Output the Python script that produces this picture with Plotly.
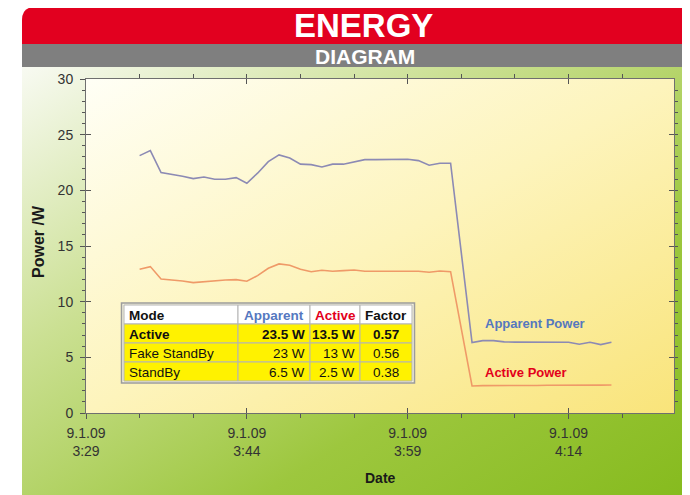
import base64
import plotly.graph_objects as go

# ---------------- data ----------------
DAY = "2009-01-09 "
times_on = ["03:34", "03:35", "03:36", "03:37", "03:38", "03:39", "03:40", "03:41", "03:42", "03:43",
            "03:44", "03:45", "03:46", "03:47", "03:48", "03:49", "03:50", "03:51", "03:52", "03:53",
            "03:54", "03:55", "03:56", "03:57", "03:58", "03:59", "04:00", "04:01", "04:02", "04:03"]
times_sb = ["04:05", "04:06", "04:07", "04:08", "04:09", "04:10", "04:11", "04:12", "04:13", "04:14",
            "04:15", "04:16", "04:17", "04:18"]

apparent_on = [23.12, 23.57, 21.59, 21.45, 21.27, 21.05, 21.20, 20.99, 20.99, 21.14,
               20.64, 21.54, 22.58, 23.18, 22.91, 22.35, 22.31, 22.10, 22.35, 22.35,
               22.58, 22.76, 22.76, 22.76, 22.82, 22.79, 22.67, 22.26, 22.43, 22.43]
apparent_sb = [6.32, 6.50, 6.50, 6.39, 6.37, 6.37, 6.37, 6.37, 6.37, 6.35, 6.17, 6.35, 6.14, 6.35]

active_on = [12.91, 13.15, 12.04, 11.98, 11.86, 11.71, 11.80, 11.89, 11.95, 11.98,
             11.83, 12.34, 13.00, 13.39, 13.27, 12.91, 12.69, 12.82, 12.73, 12.79,
             12.85, 12.73, 12.73, 12.73, 12.76, 12.73, 12.73, 12.64, 12.76, 12.69]
active_sb = [2.43, 2.46, 2.45, 2.47, 2.47, 2.48, 2.47, 2.49, 2.48, 2.50, 2.49, 2.51, 2.50, 2.52]

x_ticks = ["03:29", "03:44", "03:59", "04:14"]
x_tick_labels = ["9.1.09<br>3:29", "9.1.09<br>3:44", "9.1.09<br>3:59", "9.1.09<br>4:14"]
x_end = "04:23:50"

table_header = ["Mode", "Apparent", "Active", "Factor"]
table_modes = ["Active", "Fake StandBy", "StandBy"]
table_apparent = ["23.5", "23", "6.5"]
table_active = ["13.5", "13", "2.5"]
table_factor = ["0.57", "0.56", "0.38"]

times = [DAY + t for t in times_on + times_sb]
apparent = apparent_on + apparent_sb
active = active_on + active_sb

# ---------------- geometry (page pixels; body has an 8px margin) ----------------
OFF = 8
W, H = 690 - OFF, 495 - OFF
PL, PR, PT, PB = 86, 674, 79, 413          # plot box in page pixels
ML, MT = PL - OFF, PT - OFF
MR, MB = W - (PR - OFF), H - (PB - OFF)
PW, PH = PR - PL, PB - PT


def px(x):
    return (x - PL) / PW


def py(y):
    return (PB - y) / PH


FONT = "Liberation Sans, Arial, sans-serif"
BLUE = "#5578bf"
RED = "#e3001b"

svg = f"""<svg xmlns='http://www.w3.org/2000/svg' width='{W}' height='{H}' viewBox='0 0 {W} {H}' preserveAspectRatio='none'>
<defs>
<linearGradient id='g' x1='0' y1='0' x2='1' y2='1'>
<stop offset='0' stop-color='#f8faf2'/>
<stop offset='0.33' stop-color='#cbe093'/>
<stop offset='0.68' stop-color='#9dc73e'/>
<stop offset='1' stop-color='#86bb1e'/>
</linearGradient>
<linearGradient id='y' x1='0' y1='0' x2='1' y2='1'>
<stop offset='0' stop-color='#fffff6'/>
<stop offset='0.5' stop-color='#fdf4bc'/>
<stop offset='1' stop-color='#f9e47a'/>
</linearGradient>
</defs>
<g transform='translate(-{OFF},-{OFF})'>
<rect x='22' y='67' width='{690-22}' height='{495-67}' fill='url(#g)'/>
<rect x='{PL}' y='{PT}' width='{PW}' height='{PH}' fill='url(#y)'/>
<path d='M22,20 Q22,7 35,7 L690,7 L690,44 L22,44 Z' fill='#e2001f'/>
<rect x='22' y='44' width='{690-22}' height='23' fill='#7f7f7f'/>
</g>
</svg>"""
bg_uri = "data:image/svg+xml;base64," + base64.b64encode(svg.encode()).decode()

fig = go.Figure()

fig.add_trace(go.Scatter(x=times, y=apparent, mode="lines", name="Apparent Power",
                         line=dict(color="#8c8ab4", width=1.6), xaxis="x", yaxis="y"))
fig.add_trace(go.Scatter(x=times, y=active, mode="lines", name="Active Power",
                         line=dict(color="#ef9a68", width=1.6), xaxis="x2", yaxis="y2"))

# ---------------- table drawn with shapes + annotations ----------------
col_edges = [124, 238, 310, 360, 412]
row_edges = [305, 324, 343, 362, 381]
shapes = [dict(type="rect", xref="paper", yref="paper", x0=px(121.5), x1=px(414.5),
               y0=py(383), y1=py(303), fillcolor="#f2f0dc",
               line=dict(color="#9c9c9c", width=1.5), layer="above")]
annotations = []
rows = [table_header] + [[m, f"{a} W", f"{b} W", f] for m, a, b, f in
                         zip(table_modes, table_apparent, table_active, table_factor)]
hdr_colors = ["#111111", BLUE, RED, "#111111"]
for r, row in enumerate(rows):
    y0, y1 = row_edges[r], row_edges[r + 1]
    for c, txt in enumerate(row):
        x0, x1 = col_edges[c], col_edges[c + 1]
        shapes.append(dict(type="rect", xref="paper", yref="paper",
                           x0=px(x0), x1=px(x1), y0=py(y1), y1=py(y0),
                           fillcolor="white" if r == 0 else "#fff200",
                           line=dict(color="#b4b4b4", width=1), layer="above"))
        if r == 0:
            align = "left" if c == 0 else "center"
        else:
            align = ["left", "right", "right", "center"][c]
        if align == "left":
            ax, xa = x0 + 3, "left"
        elif align == "right":
            ax, xa = x1 - 3, "right"
        else:
            ax, xa = (x0 + x1) / 2, "center"
        bold = r <= 1
        color = hdr_colors[c] if r == 0 else "#111111"
        annotations.append(dict(text=txt, xref="paper", yref="paper", x=px(ax), y=py((y0 + y1) / 2 + 0.5),
                                xanchor=xa, yanchor="middle", showarrow=False,
                                font=dict(family=FONT, size=13.5, color=color,
                                          weight="bold" if bold else "normal")))

tickfont = dict(family=FONT, size=14, color="#333333")
xr = [DAY + "03:29", DAY + x_end]
xt = [DAY + t for t in x_ticks]
minor_x = dict(tickmode="linear", tick0=DAY + "03:29", dtick=300000, ticklen=3,
               tickcolor="#555555", showgrid=False)
minor_y = dict(dtick=1, ticklen=3, tickcolor="#555555", showgrid=False)

annotations += [
    dict(text="ENERGY", xref="paper", yref="paper", x=px(363), y=py(26),
         xanchor="center", yanchor="middle", showarrow=False, borderpad=0,
         font=dict(family=FONT, size=33, color="white", weight="bold")),
    dict(text="DIAGRAM", xref="paper", yref="paper", x=px(365), y=py(56.5),
         xanchor="center", yanchor="middle", showarrow=False, borderpad=0,
         font=dict(family=FONT, size=21, color="white", weight="bold")),
    dict(text="Power /W", xref="paper", yref="paper", x=px(38), y=py(242), textangle=-90,
         xanchor="center", yanchor="middle", showarrow=False,
         font=dict(family=FONT, size=16, color="#1a1a1a", weight="bold")),
    dict(text="Date", xref="paper", yref="paper", x=px(380), y=py(478),
         xanchor="center", yanchor="middle", showarrow=False,
         font=dict(family=FONT, size=14, color="#1a1a1a", weight="bold")),
    dict(text="Apparent Power", xref="x", yref="y", x=DAY + "04:06:00", y=8.0,
         xanchor="left", yanchor="middle", showarrow=False,
         font=dict(family=FONT, size=13, color=BLUE, weight="bold")),
    dict(text="Active Power", xref="x", yref="y", x=DAY + "04:06:00", y=3.68,
         xanchor="left", yanchor="middle", showarrow=False,
         font=dict(family=FONT, size=13, color=RED, weight="bold")),
]

fig.update_layout(
    width=W, height=H, autosize=False,
    margin=dict(l=ML, r=MR, t=MT, b=MB, pad=0),
    paper_bgcolor="white", plot_bgcolor="rgba(0,0,0,0)",
    showlegend=False,
    font=dict(family=FONT),
    xaxis=dict(type="date", range=xr, tickmode="array", tickvals=xt, ticktext=x_tick_labels,
               ticks="outside", ticklen=5, tickcolor="#555555", tickfont=tickfont,
               ticklabelstandoff=2,
               showline=True, linecolor="#6f6f6f", linewidth=1, mirror=True,
               showgrid=False, zeroline=False, minor=minor_x),
    xaxis2=dict(type="date", range=xr, overlaying="x", tickmode="array", tickvals=xt,
                ticks="inside", ticklen=5, tickcolor="#555555", showticklabels=False,
                showline=True, linecolor="#6f6f6f", linewidth=1, mirror="ticks",
                showgrid=False, zeroline=False, minor=dict(minor_x, ticklen=4)),
    yaxis=dict(range=[0, 30], tickmode="linear", tick0=0, dtick=5,
               ticks="outside", ticklen=5, tickcolor="#555555", tickfont=tickfont,
               ticklabelstandoff=4,
               showline=True, linecolor="#6f6f6f", linewidth=1, mirror=True,
               showgrid=False, zeroline=False, minor=minor_y),
    yaxis2=dict(range=[0, 30], overlaying="y", side="left", tickmode="linear", tick0=0, dtick=5,
                ticks="inside", ticklen=5, tickcolor="#555555", showticklabels=False,
                showline=True, linecolor="#6f6f6f", linewidth=1, mirror="ticks",
                showgrid=False, zeroline=False, minor=minor_y),
    images=[dict(source=bg_uri, xref="paper", yref="paper", x=px(OFF), y=py(OFF),
                 sizex=W / PW, sizey=H / PH, xanchor="left", yanchor="top",
                 sizing="stretch", layer="below")],
    shapes=shapes,
    annotations=annotations,
)

fig.write_html("out.html")
